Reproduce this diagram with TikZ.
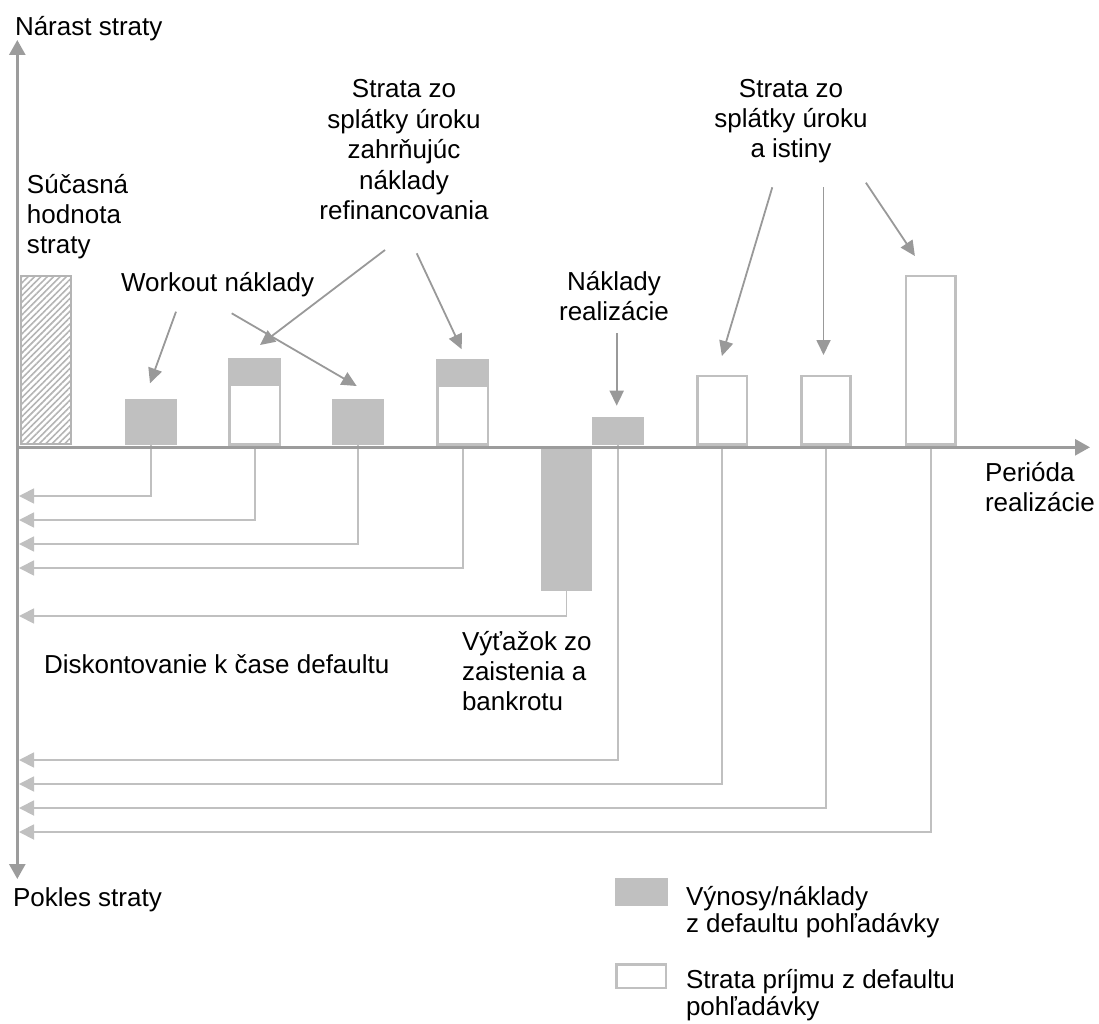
\documentclass[tikz,border=0pt]{standalone}
\usepackage{fontspec}
\setmainfont{Liberation Sans}
\usetikzlibrary{arrows.meta,patterns.meta}
\definecolor{barfill}{HTML}{C0C0C0}
\definecolor{axisgray}{HTML}{9C9C9C}
\definecolor{annogray}{HTML}{999999}
\definecolor{linegray}{HTML}{C0C0C0}
\definecolor{hatchgray}{HTML}{B4B4B4}
\begin{document}
\begin{tikzpicture}[x=1pt,y=-1pt,
  txt/.style={inner sep=0pt, outer sep=0pt, font=\fontsize{26}{30}\selectfont},
  legtxt/.style={inner sep=0pt, outer sep=0pt, align=left, anchor=base west, font=\fontsize{26}{27}\selectfont},
  fillbar/.style={fill=barfill, draw=none, inner sep=0pt, outer sep=0pt, anchor=south west},
  openbar/.style={fill=white, draw=linegray, line width=2.5pt, inner sep=0pt, outer sep=0pt, anchor=south west},
  axisline/.style={draw=axisgray, line width=2.7pt},
  axtip/.style={-{Triangle[length=15pt,width=16pt]}},
  anno/.style={draw=annogray, line width=1.8pt, -{Triangle[length=15pt,width=14pt]}},
  disc/.style={draw=linegray, line width=1.8pt, -{Triangle[length=15pt,width=15pt]}},
]
\useasboundingbox (0,0) rectangle (1099,1024);

% bars
\node[draw=hatchgray, line width=2pt, inner sep=0pt, outer sep=0pt, anchor=south west,
      pattern={Lines[angle=45,distance=4.5pt,line width=1.6pt]}, pattern color=hatchgray,
      minimum width=50pt, minimum height=168pt] (pv) at (21,444) {};
\node[fillbar, minimum width=52pt, minimum height=46pt] (b1) at (125,445) {};
\node[openbar, minimum width=50.5pt, minimum height=85pt] (b2) at (229.5,444.5) {};
\fill[barfill] (228,358) rectangle (281,386);
\node[fillbar, minimum width=52pt, minimum height=46pt] (b3) at (332,445) {};
\node[openbar, minimum width=50.5pt, minimum height=84pt] (b4) at (437.5,444.5) {};
\fill[barfill] (436,359) rectangle (489,387);
\node[fillbar, minimum width=51pt, minimum height=142pt] (neg) at (541,591) {};
\node[fillbar, minimum width=52pt, minimum height=28pt] (b5) at (592,445) {};
\node[openbar, minimum width=49.5pt, minimum height=68.5pt] (b6) at (697.5,444.5) {};
\node[openbar, minimum width=49pt, minimum height=68.5pt] (b7) at (801.5,444.5) {};
\node[openbar, minimum width=49.5pt, minimum height=168.5pt] (b8) at (906,444.5) {};

% discount connectors
\coordinate (d1) at (19,496);
\coordinate (d2) at (19,520);
\coordinate (d3) at (19,544);
\coordinate (d4) at (19,568);
\coordinate (d5) at (19,616);
\coordinate (d6) at (19,760);
\coordinate (d7) at (19,784);
\coordinate (d8) at (19,808);
\coordinate (d9) at (19,832);
\draw[disc] (b1.south) |- (d1);
\draw[disc] (b2.south) |- (d2);
\draw[disc] (b3.south) |- (d3);
\draw[disc] (b4.south) |- (d4);
\draw[disc] (neg.south) |- (d5);
\draw[disc] (b5.south) |- (d6);
\draw[disc] (b6.south) |- (d7);
\draw[disc] (b7.south) |- (d8);
\draw[disc] (b8.south) |- (d9);

% axes
\coordinate (ytop) at (17.3,40);
\coordinate (ybot) at (17.3,879);
\coordinate (orig) at (17.3,447.3);
\coordinate (xend) at (1090,447.3);
\draw[axisline, {Triangle[length=15pt,width=16pt]}-{Triangle[length=15pt,width=16pt]}] (ytop) -- (ybot);
\draw[axisline, axtip] (orig) -- (xend);

% texts (anchor base = baseline of the last line)
\node[txt, anchor=base west] (narast) at (15,36) {Nárast straty};
\node[txt, anchor=base west] (pokles) at (13,906) {Pokles straty};
\node[txt, anchor=base west, align=left] (sucasna) at (27,254) {Súčasná\\hodnota\\straty};
\node[txt, anchor=base west] (workout) at (121,291.7) {Workout náklady};
\node[txt, anchor=base, align=center, font=\fontsize{26}{30.5}\selectfont] (refin) at (404,220) {Strata zo\\splátky úroku\\zahrňujúc\\náklady\\refinancovania};
\node[txt, anchor=base, align=center] (istina) at (791,158) {Strata zo\\splátky úroku\\a istiny};
\node[txt, anchor=base, align=center] (realiz) at (614,320.7) {Náklady\\realizácie};
\node[txt, anchor=base west, align=left] (perioda) at (985,511.7) {Perióda\\realizácie};
\node[txt, anchor=base west] (disk) at (44,673) {Diskontovanie k čase defaultu};
\node[txt, anchor=base west, align=left] (vytazok) at (462,710) {Výťažok zo\\zaistenia a\\bankrotu};

% annotation arrows
\coordinate (wk1s) at (176,311.7);  \coordinate (wk1e) at (150,383.3);
\coordinate (wk2s) at (231.7,313.3); \coordinate (wk2e) at (356.7,386);
\coordinate (rf1s) at (385,250);    \coordinate (rf1e) at (260,345);
\coordinate (rf2s) at (416.7,253.3); \coordinate (rf2e) at (461.7,349.3);
\coordinate (nrs) at (616.7,333);   \coordinate (nre) at (616.7,405.7);
\coordinate (si1s) at (772.3,187.3); \coordinate (si1e) at (721.9,356);
\coordinate (si2s) at (823.5,187.3); \coordinate (si2e) at (823.5,355);
\coordinate (si3s) at (865.9,182.7); \coordinate (si3e) at (914.9,256);
\draw[anno] (wk1s) -- (wk1e);
\draw[anno] (wk2s) -- (wk2e);
\draw[anno] (rf1s) -- (rf1e);
\draw[anno] (rf2s) -- (rf2e);
\draw[anno] (nrs) -- (nre);
\draw[anno] (si1s) -- (si1e);
\draw[anno] (si2s) -- (si2e);
\draw[anno] (si3s) -- (si3e);

% legend
\node[fillbar, minimum width=53pt, minimum height=28pt] (leg1) at (615,906) {};
\node[openbar, minimum width=49.5pt, minimum height=23.5pt] (leg2) at (616.25,987.75) {};
\node[legtxt] (legt1) at (686,932) {Výnosy/náklady\\z defaultu pohľadávky};
\node[legtxt] (legt2) at (686,1015) {Strata príjmu z defaultu\\pohľadávky};
\end{tikzpicture}
\end{document}
